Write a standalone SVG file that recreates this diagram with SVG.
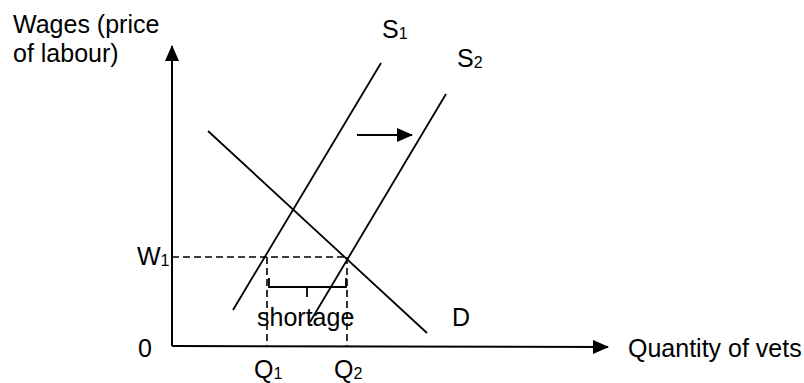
<svg xmlns="http://www.w3.org/2000/svg" width="804" height="383" viewBox="0 0 804 383">
<style>
text{font-family:"Liberation Sans",Arial,sans-serif;fill:#000}
.t{font-size:25px}
.sub{font-size:16px}
.ln{stroke:#000;stroke-width:1.8;fill:none}
.ax{stroke:#000;stroke-width:2;fill:none}
.dash{stroke:#000;stroke-width:1.6;fill:none;stroke-dasharray:7 4}
</style>
<defs>
<marker id="ahBig" viewBox="0 0 16 14" markerWidth="16" markerHeight="14" refX="15" refY="7" orient="auto" markerUnits="userSpaceOnUse">
<path d="M0,0 L16,7 L0,14 Z" fill="#000"/>
</marker>
</defs>
<rect width="804" height="383" fill="#fff"/>
<g id="connectors">
<line id="y-axis" class="ax" x1="172" y1="346" x2="172" y2="46" marker-end="url(#ahBig)"/>
<line id="x-axis" class="ax" x1="172" y1="346" x2="608" y2="347" marker-end="url(#ahBig)"/>
<line id="shift-arrow" class="ax" x1="357" y1="135" x2="412" y2="135" marker-end="url(#ahBig)"/>
<line class="dash" x1="172" y1="257" x2="348" y2="257"/>
<line class="dash" x1="267" y1="257" x2="267" y2="346"/>
<line class="dash" x1="347" y1="257" x2="347" y2="346"/>
<path id="brace" class="ln" d="M269,278 L269,287 L346,287 L346,278 M307,287 L307,297"/>
</g>
<g id="S1"><line class="ln" x1="381" y1="63" x2="233" y2="310"/><text class="t" x="382" y="38">S<tspan class="sub" dy="1">1</tspan></text></g>
<g id="S2"><line class="ln" x1="446" y1="94" x2="310" y2="322"/><text class="t" x="457" y="67">S<tspan class="sub" dy="1">2</tspan></text></g>
<g id="D"><line class="ln" x1="208" y1="131" x2="427" y2="333"/><text class="t" x="452" y="326">D</text></g>
<g id="labels">
<text class="t" x="13" y="33">Wages (price</text>
<text class="t" x="13" y="62">of labour)</text>
<text class="t" x="628" y="357">Quantity of vets</text>
<text class="t" x="138" y="357">0</text>
<text class="t" x="137" y="265">W<tspan class="sub" dy="1">1</tspan></text>
<text class="t" x="254" y="378">Q<tspan class="sub" dy="1">1</tspan></text>
<text class="t" x="334" y="378">Q<tspan class="sub" dy="1">2</tspan></text>
<text class="t" x="257" y="326">shortage</text>
</g>
</svg>
